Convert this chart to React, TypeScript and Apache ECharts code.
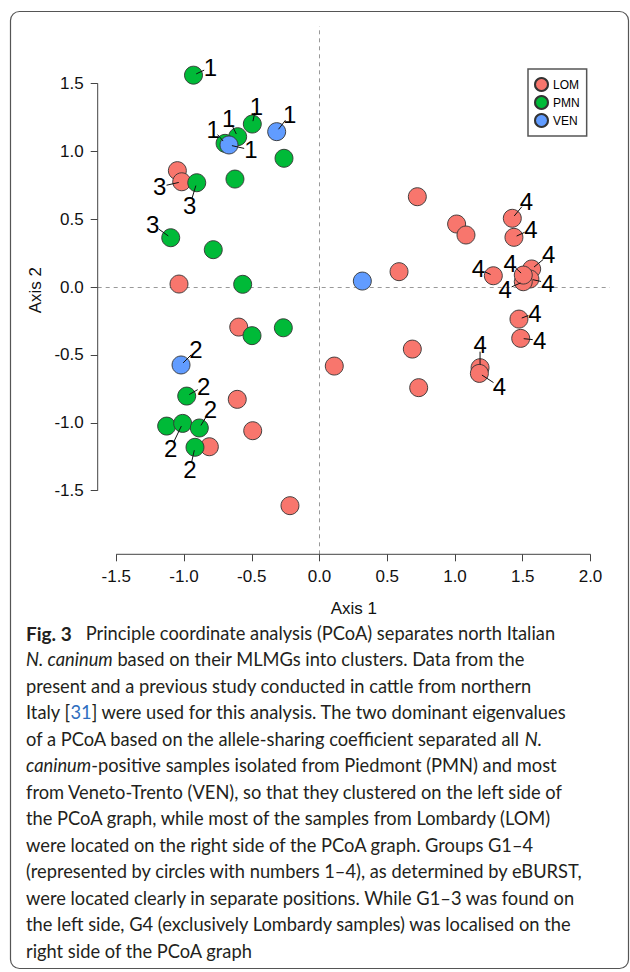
import React, { useEffect, useRef } from "react";
import * as echarts from "echarts";

// ---------- data ----------
const xTicks = [-1.5, -1.0, -0.5, 0.0, 0.5, 1.0, 1.5, 2.0];
const yTicks = [-1.5, -1.0, -0.5, 0.0, 0.5, 1.0, 1.5];
const xRange = [-1.637, 2.144];
const yRange = [-1.968, 1.922];

const lomPoints: [number, number][] = [
  [-1.049, 0.857], [-1.017, 0.775], [-1.037, 0.022], [-0.596, -0.295],
  [-0.607, -0.827], [-0.493, -1.058], [-0.813, -1.176], [-0.218, -1.61],
  [0.722, 0.665], [1.012, 0.464], [1.081, 0.383], [1.423, 0.506],
  [1.435, 0.366], [0.587, 0.113], [1.283, 0.083], [1.566, 0.133],
  [1.553, 0.059], [1.504, 0.039], [1.504, 0.088], [1.472, -0.236],
  [1.485, -0.378], [0.685, -0.457], [0.109, -0.582], [0.732, -0.741],
  [1.185, -0.594], [1.18, -0.636],
];
const lomGroups: (string | null)[] = [
  null, "3", null, null, null, null, null, null, null, null, null, "4",
  "4", null, "4", "4", "4", "4", "4", "4", "4", null, null, null, "4", "4",
];

const pmnPoints: [number, number][] = [
  [-0.93, 1.56], [-0.496, 1.2], [-0.604, 1.107], [-0.697, 1.058],
  [-0.262, 0.948], [-0.906, 0.768], [-0.624, 0.795], [-1.098, 0.363],
  [-0.784, 0.275], [-0.567, 0.02], [-0.498, -0.358], [-0.267, -0.3],
  [-0.98, -0.803], [-1.128, -1.024], [-1.01, -1.004], [-0.887, -1.038],
  [-0.919, -1.18],
];
const pmnGroups: (string | null)[] = [
  "1", "1", "1", "1", null, "3", null, "3", null, null, null, null,
  "2", null, "2", "2", "2",
];

const venPoints: [number, number][] = [
  [-0.668, 1.046], [-0.316, 1.144], [0.316, 0.044], [-1.022, -0.574],
];
const venGroups: (string | null)[] = ["1", "1", null, "2"];

// ---------- layout of group labels (pixel offsets from the point) ----------
const labelOffsets: Record<string, [number, number]> = {
  "LOM-1": [-22, 5],
  "LOM-11": [14, -17],
  "LOM-12": [17, -8],
  "LOM-14": [-15, -7],
  "LOM-15": [17, -14],
  "LOM-16": [18, 4],
  "LOM-17": [-18, 8],
  "LOM-18": [-13, -12],
  "LOM-19": [16, -6],
  "LOM-20": [19, 2],
  "LOM-24": [0, -23],
  "LOM-25": [20, 13],
  "PMN-0": [17, -8],
  "PMN-1": [4, -18],
  "PMN-2": [-9, -18],
  "PMN-3": [-12, -14],
  "PMN-5": [-7, 23],
  "PMN-7": [-18, -13],
  "PMN-12": [17, -10],
  "PMN-14": [-12, 25],
  "PMN-15": [11, -18],
  "PMN-16": [-5, 22],
  "VEN-0": [22, 5],
  "VEN-1": [13, -17],
  "VEN-3": [15, -15],
};

const captionLines = [
  "{b|Fig. 3}   Principle coordinate analysis (PCoA) separates north Italian",
  "{i|N. caninum} based on their MLMGs into clusters. Data from the",
  "present and a previous study conducted in cattle from northern",
  "Italy [{u|31}] were used for this analysis. The two dominant eigenvalues",
  "of a PCoA based on the allele-sharing coefficient separated all {i|N.}",
  "{i|caninum}-positive samples isolated from Piedmont (PMN) and most",
  "from Veneto-Trento (VEN), so that they clustered on the left side of",
  "the PCoA graph, while most of the samples from Lombardy (LOM)",
  "were located on the right side of the PCoA graph. Groups G1–4",
  "(represented by circles with numbers 1–4), as determined by eBURST,",
  "were located clearly in separate positions. While G1–3 was found on",
  "the left side, G4 (exclusively Lombardy samples) was localised on the",
  "right side of the PCoA graph",
];

const seriesDefs = [
  { name: "LOM", key: "LOM", points: lomPoints, groups: lomGroups, color: "#F8766D" },
  { name: "PMN", key: "PMN", points: pmnPoints, groups: pmnGroups, color: "#00BA38" },
  { name: "VEN", key: "VEN", points: venPoints, groups: venGroups, color: "#619CFF" },
];

const AXIS_FONT = "Liberation Sans";

export default function App() {
  const ref = useRef<HTMLDivElement>(null);

  useEffect(() => {
    if (!ref.current) return;
    const chart = echarts.init(ref.current, undefined, { renderer: "svg" });

    const labelItems: { value: [number, number]; text: string; off: [number, number] }[] = [];
    seriesDefs.forEach((s) => {
      s.groups.forEach((g, i) => {
        if (g) {
          labelItems.push({
            value: s.points[i],
            text: g,
            off: labelOffsets[`${s.key}-${i}`] || [15, -15],
          });
        }
      });
    });

    const capFont = { fontFamily: "Lato", fontSize: 18.3, fill: "#231f20" };
    const captionGraphics = captionLines.map((line, i) => ({
      type: "text",
      left: 26,
      top: 635 + i * 26.5 - 11.5,
      silent: true,
      style: {
        text: line,
        ...capFont,
        rich: {
          b: { ...capFont, fontSize: 19, fontWeight: "bold" },
          i: { ...capFont, fontStyle: "italic" },
          u: { ...capFont, fill: "#2f6fbf" },
        },
      },
    }));

    const option: any = {
      animation: false,
      backgroundColor: "#ffffff",
      grid: {
        left: 97.7,
        right: 20,
        top: 26,
        bottom: 972 - 554.3,
        containLabel: false,
        outerBoundsMode: "none",
      },
      xAxis: {
        type: "value",
        min: xRange[0],
        max: xRange[1],
        axisLine: { show: false, onZero: false },
        splitLine: { show: false },
        axisTick: {
          show: true,
          customValues: xTicks,
          length: 7,
          lineStyle: { color: "#444", width: 1 },
        },
        axisLabel: {
          customValues: xTicks,
          formatter: (v: number) => v.toFixed(1),
          margin: 14,
          fontSize: 17,
          fontFamily: AXIS_FONT,
          color: "#111",
        },
        name: "Axis 1",
        nameLocation: "middle",
        nameGap: 46,
        nameTextStyle: { fontSize: 17, fontFamily: AXIS_FONT, color: "#111" },
      },
      yAxis: {
        type: "value",
        min: yRange[0],
        max: yRange[1],
        axisLine: { show: false, onZero: false },
        splitLine: { show: false },
        axisTick: {
          show: true,
          customValues: yTicks,
          length: 7,
          lineStyle: { color: "#444", width: 1 },
        },
        axisLabel: {
          customValues: yTicks,
          formatter: (v: number) => v.toFixed(1),
          margin: 14,
          fontSize: 17,
          fontFamily: AXIS_FONT,
          color: "#111",
        },
        name: "Axis 2",
        nameLocation: "middle",
        nameGap: 42,
        nameTextStyle: { fontSize: 17, fontFamily: AXIS_FONT, color: "#111" },
      },
      legend: {
        orient: "vertical",
        left: 528,
        top: 69,
        padding: [8, 7, 8, 6],
        itemWidth: 13,
        itemHeight: 13,
        itemGap: 3,
        icon: "circle",
        borderColor: "#555",
        borderWidth: 1.5,
        borderRadius: 0,
        backgroundColor: "#fff",
        textStyle: { fontSize: 12, fontFamily: AXIS_FONT, color: "#000" },
        data: seriesDefs.map((s) => s.name),
      },
      graphic: [
        {
          type: "rect",
          silent: true,
          shape: { x: 10.5, y: 11.5, width: 618, height: 957, r: 9 },
          style: { fill: "none", stroke: "#555", lineWidth: 1.2 },
        },
        ...captionGraphics,
      ],
      series: [
        {
          type: "custom",
          name: "axes",
          coordinateSystem: "cartesian2d",
          silent: true,
          clip: false,
          z: 1,
          data: [[0, 0]],
          renderItem: (params: any, api: any) => {
            const cs = params.coordSys;
            const bottom = cs.y + cs.height;
            const left = cs.x;
            const xa = api.coord([xTicks[0], 0])[0];
            const xb = api.coord([xTicks[xTicks.length - 1], 0])[0];
            const ya = api.coord([0, yTicks[0]])[1];
            const yb = api.coord([0, yTicks[yTicks.length - 1]])[1];
            const st = { stroke: "#444", lineWidth: 1 };
            return {
              type: "group",
              children: [
                { type: "line", shape: { x1: xa, y1: bottom, x2: xb, y2: bottom }, style: st },
                { type: "line", shape: { x1: left, y1: ya, x2: left, y2: yb }, style: st },
              ],
            };
          },
          markLine: {
            silent: true,
            symbol: ["none", "none"],
            label: { show: false },
            z: 1,
            lineStyle: { color: "#999", type: [4, 4], width: 1 },
            emphasis: { disabled: true },
            data: [{ xAxis: 0 }, { yAxis: 0 }],
          },
        },
        ...seriesDefs.map((s) => ({
          type: "scatter",
          name: s.name,
          z: 3,
          symbol: "circle",
          symbolSize: 18,
          silent: true,
          itemStyle: { color: s.color, borderColor: "#333", borderWidth: 0.9, opacity: 1 },
          data: s.points,
        })),
        {
          type: "custom",
          name: "groups",
          coordinateSystem: "cartesian2d",
          silent: true,
          clip: false,
          z: 10,
          data: labelItems.map((l) => l.value),
          renderItem: (params: any, api: any) => {
            const it = labelItems[params.dataIndex];
            const p = api.coord([api.value(0), api.value(1)]);
            const [dx, dy] = it.off;
            const L = Math.hypot(dx, dy) || 1;
            const ux = dx / L;
            const uy = dy / L;
            const s0 = 3;
            const e0 = Math.max(L - 7, s0 + 1);
            return {
              type: "group",
              children: [
                {
                  type: "line",
                  shape: {
                    x1: p[0] + ux * s0,
                    y1: p[1] + uy * s0,
                    x2: p[0] + ux * e0,
                    y2: p[1] + uy * e0,
                  },
                  style: { stroke: "#111", lineWidth: 1 },
                },
                {
                  type: "text",
                  x: p[0] + dx,
                  y: p[1] + dy,
                  style: {
                    text: it.text,
                    fontSize: 24,
                    fontFamily: AXIS_FONT,
                    fill: "#000",
                    align: "center",
                    verticalAlign: "middle",
                  },
                },
              ],
            };
          },
        },
      ],
    };

    chart.setOption(option);
    return () => chart.dispose();
  }, []);

  return (
    <div
      ref={ref}
      style={{ position: "fixed", left: 0, top: 0, width: 630, height: 972, background: "#fff" }}
    />
  );
}
